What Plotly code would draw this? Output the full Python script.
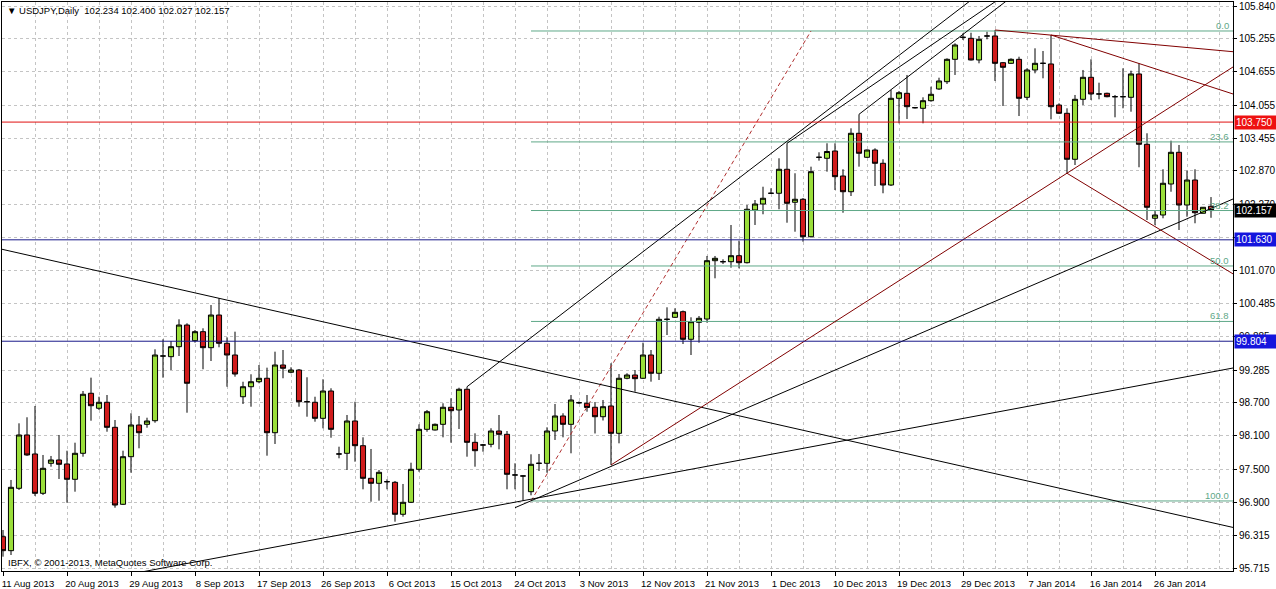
import plotly.graph_objects as go

# ---------------- data (USDJPY daily bars) ----------------
open_ = [96.285, 96.033, 97.156, 98.116, 97.774, 97.066, 97.606, 97.666, 97.594, 97.318,
         97.786, 98.867, 98.597, 98.705, 98.254, 96.868, 97.725, 98.296, 98.308, 98.373,
         99.538, 99.526, 99.706, 100.096, 99.814, 99.976, 99.688, 100.276, 99.767, 99.556,
         98.805, 98.985, 99.075, 99.137, 98.157, 99.376, 99.245, 99.286, 98.715, 98.705,
         98.416, 98.908, 97.774, 97.786, 98.368, 97.923, 97.336, 97.246, 97.275, 97.264,
         96.688, 96.904, 97.498, 98.218, 98.206, 98.308, 98.615, 98.566, 98.939, 97.984,
         97.936, 97.948, 98.188, 98.128, 97.396, 97.378, 97.095, 97.606, 97.606, 98.188,
         98.458, 98.308, 98.697, 98.687, 98.615, 98.445, 98.638, 98.146, 99.137, 99.196,
         99.137, 99.556, 99.227, 100.199, 100.235, 100.336, 99.839, 100.145, 100.204, 101.254,
         101.236, 101.236, 101.344, 101.218, 102.167, 102.275, 102.468, 102.468, 102.900, 102.306,
         102.360, 101.686, 103.116, 103.098, 103.229, 102.779, 102.496, 103.548, 103.116, 103.247,
         103.008, 102.617, 104.178, 104.268, 104.009, 103.998, 104.135, 104.346, 104.477, 104.880,
         105.276, 105.258, 104.868, 105.300, 105.300, 104.819, 104.808, 104.880, 104.196, 104.688,
         104.808, 104.796, 104.057, 103.908, 103.080, 104.160, 104.556, 104.256, 104.268, 104.207,
         104.207, 104.196, 104.616, 103.350, 102.018, 102.077, 102.635, 103.206, 102.257, 102.707,
         102.108, 102.234]
high = [96.405, 97.306, 98.326, 98.435, 98.638, 97.756, 97.738, 98.116, 97.833, 97.977,
        98.908, 99.148, 98.805, 98.836, 98.386, 97.833, 98.507, 98.458, 98.427, 99.659,
        99.839, 99.808, 100.199, 100.127, 100.006, 100.037, 100.456, 100.577, 99.875, 99.976,
        99.075, 99.209, 99.376, 99.328, 99.616, 99.646, 99.335, 99.304, 99.155, 98.805,
        99.119, 98.957, 97.905, 98.476, 98.715, 98.074, 97.864, 97.486, 97.318, 97.288,
        97.234, 97.617, 98.308, 98.566, 98.323, 98.687, 98.777, 98.967, 98.985, 98.146,
        97.954, 98.237, 98.476, 98.188, 97.606, 97.387, 97.768, 97.774, 98.254, 98.674,
        98.507, 98.836, 98.719, 98.836, 98.710, 98.746, 99.407, 99.214, 99.227, 99.286,
        99.778, 99.646, 100.246, 100.415, 100.397, 100.357, 100.235, 100.258, 101.339, 101.339,
        101.279, 101.897, 101.614, 102.257, 102.347, 102.586, 102.558, 103.098, 103.368, 102.828,
        102.383, 102.947, 103.206, 103.368, 103.368, 102.900, 103.638, 103.890, 103.256, 103.278,
        103.080, 104.328, 104.310, 104.598, 104.021, 104.196, 104.387, 104.549, 104.898, 105.168,
        105.348, 105.359, 105.300, 105.377, 105.408, 104.832, 104.898, 104.927, 104.718, 105.078,
        105.030, 105.318, 104.088, 103.998, 104.238, 104.688, 104.880, 104.459, 104.279, 104.238,
        104.718, 104.675, 104.808, 103.548, 102.167, 102.900, 103.415, 103.337, 102.875, 102.900,
        102.221, 102.400]
low = [95.925, 95.955, 97.126, 97.740, 97.018, 97.036, 97.545, 97.324, 96.897, 97.095,
       97.725, 98.373, 98.566, 98.175, 96.807, 96.855, 97.437, 97.876, 98.247, 98.337,
       99.148, 99.286, 99.538, 98.517, 99.778, 99.299, 99.448, 99.695, 98.985, 99.166,
       98.674, 98.625, 99.047, 97.743, 97.954, 99.137, 99.227, 98.625, 98.445, 98.355,
       98.236, 98.067, 97.696, 97.486, 97.635, 97.138, 96.915, 96.933, 97.138, 96.555,
       96.645, 96.891, 97.455, 98.175, 98.197, 98.074, 97.977, 98.224, 97.725, 97.545,
       97.815, 97.894, 97.858, 97.138, 97.138, 96.933, 97.030, 97.468, 97.437, 98.026,
       98.074, 97.786, 98.674, 98.535, 98.143, 98.377, 97.576, 97.966, 99.119, 98.896,
       99.124, 99.076, 99.106, 99.916, 100.222, 99.754, 99.556, 99.778, 100.138, 100.937,
       101.195, 101.128, 101.117, 101.204, 101.897, 102.090, 102.455, 102.180, 101.938, 101.776,
       101.596, 101.672, 103.055, 102.857, 102.527, 102.118, 102.419, 102.947, 103.103, 102.599,
       102.468, 102.599, 103.728, 103.805, 103.994, 103.728, 104.117, 104.328, 104.436, 104.598,
       105.228, 104.859, 104.808, 105.240, 104.490, 104.039, 104.796, 103.859, 104.147, 104.628,
       104.538, 103.800, 103.895, 102.828, 102.977, 104.057, 104.147, 104.160, 104.196, 103.836,
       103.998, 103.937, 102.936, 101.987, 101.897, 102.018, 102.496, 101.807, 102.046, 101.928,
       102.104, 102.027]
close = [96.033, 97.174, 98.116, 97.756, 97.066, 97.516, 97.666, 97.588, 97.318, 97.786,
         98.849, 98.643, 98.705, 98.254, 96.855, 97.725, 98.296, 98.157, 98.368, 99.556,
         99.538, 99.706, 100.096, 99.047, 99.976, 99.688, 100.276, 99.767, 99.556, 99.214,
         98.985, 99.075, 99.137, 98.157, 99.376, 99.317, 99.286, 98.715, 98.715, 98.416,
         98.908, 98.218, 97.774, 98.368, 97.923, 97.336, 97.246, 97.444, 97.275, 96.688,
         96.904, 97.498, 98.218, 98.535, 98.308, 98.615, 98.553, 98.939, 97.984, 97.833,
         97.936, 98.188, 98.128, 97.408, 97.396, 97.378, 97.588, 97.606, 98.188, 98.458,
         98.308, 98.746, 98.697, 98.611, 98.445, 98.625, 98.146, 99.137, 99.196, 99.130,
         99.556, 99.227, 100.199, 100.199, 100.325, 99.839, 100.156, 100.217, 101.254, 101.297,
         101.236, 101.344, 101.218, 102.180, 102.275, 102.378, 102.468, 102.900, 102.288, 102.360,
         101.686, 102.857, 103.116, 103.220, 102.767, 102.496, 103.548, 103.188, 103.247, 103.008,
         102.617, 104.178, 104.279, 104.027, 104.009, 104.135, 104.250, 104.490, 104.880, 105.138,
         105.276, 104.868, 105.240, 105.300, 104.808, 104.736, 104.880, 104.178, 104.688, 104.808,
         104.808, 104.027, 103.908, 103.080, 104.160, 104.556, 104.256, 104.256, 104.207, 104.207,
         104.207, 104.616, 103.350, 102.216, 102.077, 102.648, 103.206, 102.257, 102.707, 102.118,
         102.216, 102.157]
bars = list(range(len(close)))

date_tick_bars = [0, 8, 16, 24, 32, 40, 48, 56, 64, 72, 80, 88, 96, 104, 112, 120, 128, 136, 144]
date_tick_labels = ["11 Aug 2013", "20 Aug 2013", "29 Aug 2013", "8 Sep 2013", "17 Sep 2013",
                    "26 Sep 2013", "6 Oct 2013", "15 Oct 2013", "24 Oct 2013", "3 Nov 2013",
                    "12 Nov 2013", "21 Nov 2013", "1 Dec 2013", "10 Dec 2013", "19 Dec 2013",
                    "29 Dec 2013", "7 Jan 2014", "16 Jan 2014", "26 Jan 2014"]
grid_bars = list(range(0, 156, 4))

price_ticks = [105.840, 105.255, 104.655, 104.055, 103.455, 102.870, 102.270, 101.670,
               101.070, 100.485, 99.885, 99.285, 98.700, 98.100, 97.500, 96.900, 96.315, 95.715]

# trend lines: (bar0, price0, bar1, price1, extend_left, extend_right)
trend_anchors = [
    (27, 100.577, 100, 98.201, True, True),
    (65, 96.933, 153.75, 99.322, True, True),
    (64, 96.807, 153.75, 102.365, False, True),
    (76, 97.576, 153.75, 104.742, False, True),
    (58, 98.985, 100, 103.625, False, True),
    (98, 103.368, 120, 105.523, False, True),
    (107, 103.890, 120, 105.330, False, True),
    (124, 105.408, 153.75, 105.017, False, True),
    (131, 105.318, 153.75, 104.256, False, True),
    (133, 102.828, 153.75, 101.017, False, True),
]
trend_colors = ["#000000", "#000000", "#000000", "#800000", "#000000",
                "#000000", "#000000", "#800000", "#800000", "#800000"]

# Fibonacci retracement anchors (bar, price) and levels
fib_low = (66, 96.928)
fib_high = (101, 105.390)
fib_levels = [0.0, 23.6, 38.2, 50.0, 61.8, 100.0]

# horizontal levels
hlines = [103.750, 101.630, 99.804]
hline_colors = ["#e01010", "#1a1a8a", "#1a1a8a"]
hlabel_bg = ["#ee1111", "#1515dd", "#1515dd"]
last_price = 102.157
title_text = "\u25bc USDJPY,Daily  102.234 102.400 102.027 102.157"
copyright_text = "IBFX, \u00a9 2001-2013, MetaQuotes Software Corp."

X_MIN, X_MAX = -0.125, 153.75
Y_MIN, Y_MAX = 95.667, 105.912

FONT = "Liberation Sans, Arial, sans-serif"
GREEN = "#9ade3a"
RED = "#d01c1c"
FIB_COLOR = "#5fa888"
GRID = "#c4c4c4"

fig = go.Figure()
fig.add_trace(go.Candlestick(
    x=bars, open=open_, high=high, low=low, close=close,
    increasing=dict(line=dict(color="black", width=1), fillcolor=GREEN),
    decreasing=dict(line=dict(color="black", width=1), fillcolor=RED),
    whiskerwidth=0, showlegend=False, hoverinfo="skip"))

# fib level lines
span = fib_high[1] - fib_low[1]
for lvl in fib_levels:
    p = fib_high[1] - span * lvl / 100.0
    fig.add_trace(go.Scatter(x=[fib_low[0], X_MAX], y=[p, p], mode="lines",
                             line=dict(color=FIB_COLOR, width=1), showlegend=False, hoverinfo="skip"))
    fig.add_annotation(x=1, xref="paper", y=p, yref="y", text=f"{lvl:.1f}", showarrow=False,
                       xanchor="right", yanchor="bottom", xshift=-2, yshift=-2,
                       font=dict(family=FONT, size=9.5, color=FIB_COLOR))
# fib base (dashed)
fig.add_trace(go.Scatter(x=[fib_low[0], fib_high[0]], y=[fib_low[1], fib_high[1]], mode="lines",
                         line=dict(color="#b03030", width=1, dash="4px,3px"),
                         showlegend=False, hoverinfo="skip"))

# trend lines
for (b0, p0, b1, p1, el, er), col in zip(trend_anchors, trend_colors):
    slope = (p1 - p0) / (b1 - b0)
    xa = X_MIN if el else b0
    xb = X_MAX if er else b1
    fig.add_trace(go.Scatter(x=[xa, xb], y=[p0 + slope * (xa - b0), p0 + slope * (xb - b0)],
                             mode="lines", line=dict(color=col, width=1),
                             showlegend=False, hoverinfo="skip"))

# horizontal levels
for v, c, bg in zip(hlines, hline_colors, hlabel_bg):
    fig.add_trace(go.Scatter(x=[X_MIN, X_MAX], y=[v, v], mode="lines", line=dict(color=c, width=1),
                             showlegend=False, hoverinfo="skip"))
    fig.add_annotation(x=1, xref="paper", y=v, yref="y", text=f"{v:.3f}", showarrow=False,
                       xanchor="left", yanchor="middle", xshift=1, align="left", width=40,
                       bgcolor=bg, borderpad=1, font=dict(family=FONT, size=10, color="white"))
fig.add_annotation(x=1, xref="paper", y=last_price, yref="y", text=f"{last_price:.3f}", showarrow=False,
                   xanchor="left", yanchor="middle", xshift=1, align="left", width=40,
                   bgcolor="black", borderpad=1, font=dict(family=FONT, size=10, color="white"))

fig.add_annotation(x=0, xref="paper", y=1, yref="paper", text=title_text, showarrow=False,
                   xanchor="left", yanchor="top", xshift=3, yshift=-1,
                   font=dict(family=FONT, size=9.5, color="black"))
fig.add_annotation(x=0, xref="paper", y=0, yref="paper", text=copyright_text, showarrow=False,
                   xanchor="left", yanchor="bottom", xshift=4, yshift=1,
                   font=dict(family=FONT, size=9.5, color="black"))

fig.update_layout(
    width=1276, height=589,
    margin=dict(l=2, r=43, t=2, b=18),
    paper_bgcolor="white", plot_bgcolor="white",
    boxgap=0.2, boxgroupgap=0.2,
    font=dict(family=FONT, size=10, color="black"),
    xaxis=dict(range=[X_MIN, X_MAX], rangeslider=dict(visible=False), automargin=False,
               tickmode="array", tickvals=date_tick_bars, ticktext=date_tick_labels,
               tickangle=0, ticks="outside", ticklen=4, tickcolor="black", ticklabelshift=25,
               showgrid=True, gridcolor=GRID, griddash="3px,3px", gridwidth=1,
               minor=dict(tickmode="array", tickvals=grid_bars, showgrid=True,
                          gridcolor=GRID, griddash="3px,3px", ticks=""),
               showline=True, linecolor="black", linewidth=1, mirror=True,
               zeroline=False, fixedrange=True, tickfont=dict(family=FONT, size=9.5)),
    yaxis=dict(range=[Y_MIN, Y_MAX], side="right", automargin=False,
               tickmode="array", tickvals=price_ticks, ticktext=[f"{v:.3f}" for v in price_ticks],
               ticks="outside", ticklen=3, tickcolor="black",
               showgrid=True, gridcolor=GRID, griddash="3px,3px", gridwidth=1,
               showline=True, linecolor="black", linewidth=1, mirror=True,
               zeroline=False, fixedrange=True, tickfont=dict(family=FONT, size=10)),
)

fig.write_html("out.html", config={"displayModeBar": False},
               post_script="document.body.style.margin='0';document.body.style.overflow='hidden';")
